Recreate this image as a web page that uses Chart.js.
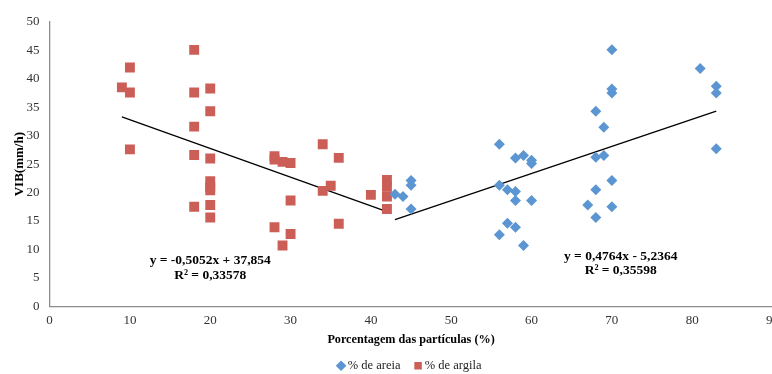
<!DOCTYPE html>
<html>
<head>
<meta charset="utf-8">
<script src="https://cdn.jsdelivr.net/npm/chart.js@4.4.1/dist/chart.umd.min.js"></script>
<style>
  html, body { margin: 0; padding: 0; background: #fff; overflow: hidden; }
  #wrap { width: 786px; height: 374px; }
</style>
</head>
<body>
<div id="wrap"><canvas id="chart"></canvas></div>
<script>
// % de areia
const areiaX = [43, 44, 45, 45, 45, 56, 56, 56, 57, 57, 58, 58, 58, 58, 59, 59, 60, 60, 60,
  67, 68, 68, 68, 68, 69, 69, 70, 70, 70, 70, 70, 81, 83, 83, 83];
const areiaY = [19.7, 19.3, 22.1, 21.3, 17.1, 28.5, 21.3, 12.6, 20.5, 14.6, 26.1, 20.2, 18.6, 13.9, 26.5, 10.7, 25.7, 25.1, 18.6,
  17.8, 34.3, 26.2, 20.5, 15.6, 31.5, 26.5, 45.1, 38.2, 37.5, 22.1, 17.5, 41.8, 38.7, 37.5, 27.7];

// % de argila
const argilaX = [9, 10, 10, 10, 18, 18, 18, 18, 18, 20, 20, 20, 20, 20, 20, 20, 20,
  28, 28, 28, 29, 29, 30, 30, 30, 34, 34, 35, 36, 36, 40, 42, 42, 42, 42];
const argilaY = [38.5, 42.0, 37.6, 27.6, 45.1, 37.6, 31.6, 26.6, 17.5, 38.3, 34.3, 26.0, 22.0, 21.0, 20.4, 17.8, 15.6,
  26.4, 25.8, 13.9, 25.4, 10.7, 25.2, 18.6, 12.7, 28.5, 20.3, 21.2, 26.1, 14.5, 19.6, 22.2, 21.0, 19.3, 17.1];

// linear trendlines: [slope, intercept], [x from, x to]
const areiaFit = [0.4764, -5.2364];
const areiaRange = [43, 83];
const argilaFit = [-0.5052, 37.854];
const argilaRange = [9, 42];

const areiaLabels = ['y = 0,4764x - 5,2364', 'R² = 0,35598'];
const argilaLabels = ['y = -0,5052x + 37,854', 'R² = 0,33578'];

const xTicks = [0, 10, 20, 30, 40, 50, 60, 70, 80, 90];
const yTicks = [0, 5, 10, 15, 20, 25, 30, 35, 40, 45, 50];

const toPoints = (xs, ys) => xs.map((x, i) => ({ x: x, y: ys[i] }));
const fitLine = (fit, range) => range.map(x => ({ x: x, y: fit[0] * x + fit[1] }));

const serif = "'Liberation Serif', 'Times New Roman', serif";

// draws the trendline equations in data coordinates
const equationText = {
  id: 'equationText',
  afterDatasetsDraw(chart) {
    const ctx = chart.ctx;
    const xs = chart.scales.x;
    const ys = chart.scales.y;
    const spots = [
      { lines: argilaLabels, x: 20, y: [8.1, 5.4] },
      { lines: areiaLabels, x: 71.1, y: [8.7, 6.2] }
    ];
    ctx.save();
    ctx.font = "bold 13.5px " + serif;
    ctx.fillStyle = '#000';
    ctx.textAlign = 'center';
    ctx.textBaseline = 'middle';
    spots.forEach(s => {
      s.lines.forEach((t, i) => {
        ctx.fillText(t, xs.getPixelForValue(s.x), ys.getPixelForValue(s.y[i]));
      });
    });
    ctx.restore();
  }
};

new Chart(document.getElementById('chart'), {
  type: 'scatter',
  data: {
    datasets: [
      {
        label: '% de areia',
        data: toPoints(areiaX, areiaY),
        pointStyle: 'rectRot',
        pointRadius: 5.5,
        pointHoverRadius: 5.5,
        backgroundColor: '#5B96D2',
        borderColor: '#5B96D2',
        borderWidth: 0
      },
      {
        label: '% de argila',
        data: toPoints(argilaX, argilaY),
        pointStyle: 'rect',
        pointRadius: 7,
        pointHoverRadius: 7,
        backgroundColor: '#CC5E58',
        borderColor: '#CC5E58',
        borderWidth: 0
      },
      {
        label: 'fit areia',
        type: 'line',
        data: fitLine(areiaFit, areiaRange),
        borderColor: '#000',
        borderWidth: 1.3,
        pointRadius: 0,
        fill: false
      },
      {
        label: 'fit argila',
        type: 'line',
        data: fitLine(argilaFit, argilaRange),
        borderColor: '#000',
        borderWidth: 1.3,
        pointRadius: 0,
        fill: false
      }
    ]
  },
  options: {
    responsive: true,
    maintainAspectRatio: false,
    animation: false,
    layout: { padding: { top: 22, left: 10, right: 0, bottom: -8 } },
    plugins: {
      legend: {
        position: 'bottom',
        fullSize: false,
        labels: {
          usePointStyle: true,
          filter: item => item.datasetIndex < 2,
          color: '#222',
          font: { family: serif, size: 12.5 },
          padding: 17,
          boxWidth: 1,
          boxHeight: 7.5
        }
      },
      tooltip: { enabled: false }
    },
    scales: {
      x: {
        type: 'linear',
        min: 0,
        max: 90,
        afterBuildTicks: axis => { axis.ticks = xTicks.map(v => ({ value: v })); },
        grid: { display: false, drawTicks: false },
        border: { display: true, color: '#8C8C8C', width: 1.3 },
        ticks: { color: '#333', font: { family: serif, size: 13 }, padding: 7, maxRotation: 0 },
        title: {
          display: true,
          text: 'Porcentagem das partículas (%)',
          color: '#000',
          font: { family: serif, size: 12.2, weight: 'bold' },
          padding: { top: -3, bottom: -5 }
        }
      },
      y: {
        type: 'linear',
        min: 0,
        max: 50,
        afterBuildTicks: axis => { axis.ticks = yTicks.map(v => ({ value: v })); },
        grid: { display: false, drawTicks: false },
        border: { display: true, color: '#8C8C8C', width: 1.3 },
        ticks: { color: '#333', font: { family: serif, size: 13 }, padding: 10 },
        title: {
          display: true,
          text: 'VIB(mm/h)',
          color: '#000',
          font: { family: serif, size: 13, weight: 'bold' },
          padding: { top: 2, bottom: -11 }
        }
      }
    }
  },
  plugins: [equationText]
});
</script>
</body>
</html>
